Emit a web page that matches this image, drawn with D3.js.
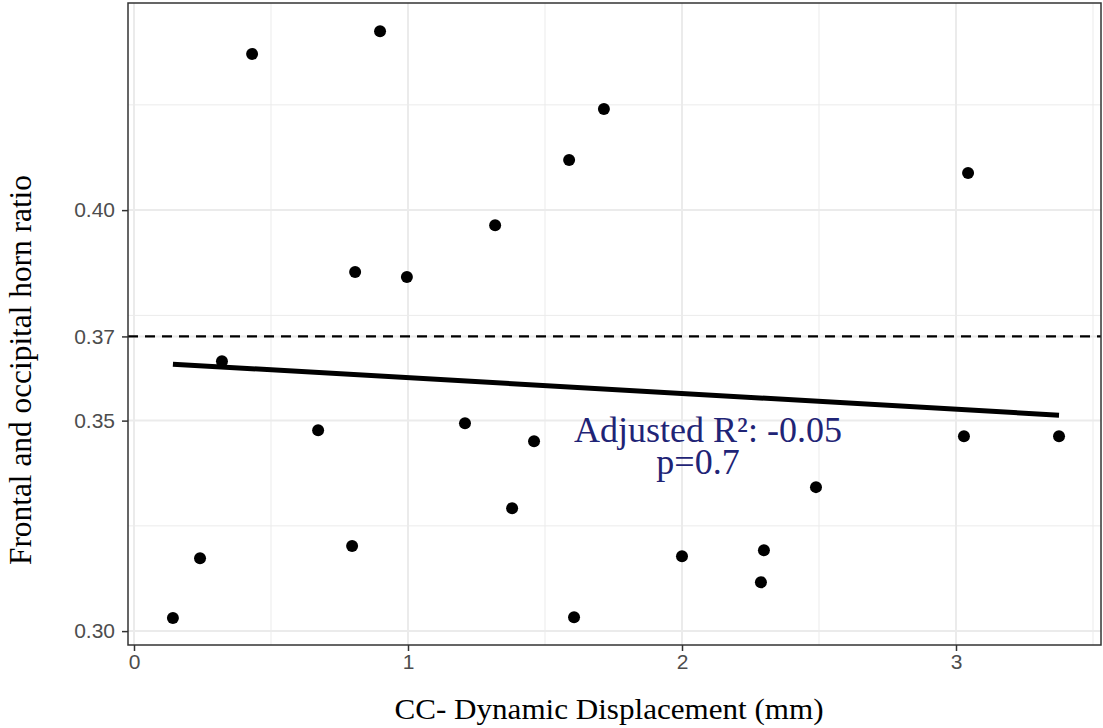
<!DOCTYPE html>
<html>
<head>
  <script src="https://cdn.jsdelivr.net/npm/d3@7"></script>
  <style>
    body { margin: 0; background: #fff; }
  </style>
</head>
<body>
<svg width="1103" height="728"></svg>
<script>
  // data
  var dispX = [0.142, 0.241, 0.321, 0.431, 0.672, 0.807, 0.796, 0.898, 0.996, 1.208, 1.318, 1.380,
               1.460, 1.588, 1.606, 1.715, 2.000, 2.288, 2.299, 2.489, 3.029, 3.044, 3.376];
  var ratioY = [0.3031, 0.3173, 0.3641, 0.4371, 0.3477, 0.3853, 0.3202, 0.4425, 0.3841, 0.3494, 0.3964, 0.3292,
                0.3451, 0.4119, 0.3033, 0.4240, 0.3178, 0.3116, 0.3192, 0.3342, 0.3463, 0.4088, 0.3463];
  var fitLine = [[0.142, 0.3634], [3.376, 0.3513]];
  var cutoff = 0.37;
  var xTicks = [0, 1, 2, 3];
  var xMinor = [0.5, 1.5, 2.5, 3.5];
  var yTicks = [0.30, 0.35, 0.37, 0.40];
  var yMinor = [0.325, 0.375, 0.425];
  var statLines = ["Adjusted R\u00b2: -0.05", "p=0.7"];

  var svg = d3.select("svg");
  var pL = 128, pR = 1101, pT = 3, pB = 645;
  var serif = "'Liberation Serif', 'DejaVu Serif', serif";

  var x = d3.scaleLinear().domain([-0.0219, 3.5292]).range([pL, pR]);
  var y = d3.scaleLinear().domain([0.2967, 0.4492]).range([pB, pT]);

  var grid = svg.append("g");
  grid.selectAll(".xmin").data(xMinor).enter().append("line")
    .attr("x1", d => x(d)).attr("x2", d => x(d)).attr("y1", pT).attr("y2", pB)
    .attr("stroke", "#ebebeb").attr("stroke-width", 1);
  grid.selectAll(".ymin").data(yMinor).enter().append("line")
    .attr("y1", d => y(d)).attr("y2", d => y(d)).attr("x1", pL).attr("x2", pR)
    .attr("stroke", "#ebebeb").attr("stroke-width", 1);
  grid.selectAll(".xmaj").data(xTicks).enter().append("line")
    .attr("x1", d => x(d)).attr("x2", d => x(d)).attr("y1", pT).attr("y2", pB)
    .attr("stroke", "#ebebeb").attr("stroke-width", 2);
  grid.selectAll(".ymaj").data(yTicks).enter().append("line")
    .attr("y1", d => y(d)).attr("y2", d => y(d)).attr("x1", pL).attr("x2", pR)
    .attr("stroke", "#ebebeb").attr("stroke-width", 2);

  // cutoff line
  svg.append("line")
    .attr("x1", pL).attr("x2", pR).attr("y1", y(cutoff)).attr("y2", y(cutoff))
    .attr("stroke", "#000").attr("stroke-width", 2.2).attr("stroke-dasharray", "10,7");

  // fit line
  svg.append("path")
    .datum(fitLine)
    .attr("d", d3.line().x(d => x(d[0])).y(d => y(d[1])))
    .attr("stroke", "#000").attr("stroke-width", 5).attr("fill", "none");

  // points
  svg.append("g").selectAll("circle").data(dispX).enter().append("circle")
    .attr("cx", d => x(d)).attr("cy", (d, i) => y(ratioY[i]))
    .attr("r", 6).attr("fill", "#000");

  // stats label
  svg.append("text")
    .attr("text-anchor", "middle")
    .attr("font-family", serif)
    .attr("font-size", 36).attr("fill", "#1f2476")
    .selectAll("tspan").data(statLines).enter().append("tspan")
    .attr("x", (d, i) => i === 0 ? 708 : 698)
    .attr("y", (d, i) => i === 0 ? 442 : 474)
    .text(d => d);

  // panel border
  svg.append("rect")
    .attr("x", pL).attr("y", pT).attr("width", pR - pL).attr("height", pB - pT)
    .attr("fill", "none").attr("stroke", "#333").attr("stroke-width", 1.5);

  // axes
  var xAxis = svg.append("g").attr("transform", "translate(0," + pB + ")")
    .call(d3.axisBottom(x).tickValues(xTicks).tickFormat(d3.format("d")).tickSize(6).tickPadding(3));
  var yAxis = svg.append("g").attr("transform", "translate(" + pL + ",0)")
    .call(d3.axisLeft(y).tickValues(yTicks).tickFormat(d3.format(".2f")).tickSize(6).tickPadding(7));
  [xAxis, yAxis].forEach(function(a) {
    a.select(".domain").remove();
    a.selectAll(".tick line").attr("stroke", "#333").attr("stroke-width", 1.5);
    a.selectAll(".tick text").attr("fill", "#4d4d4d")
      .attr("font-family", "'Liberation Sans', Arial, sans-serif").attr("font-size", 21);
  });

  // axis titles
  svg.append("text")
    .attr("x", 609).attr("y", 719)
    .attr("text-anchor", "middle")
    .attr("font-family", serif).attr("font-size", 30)
    .attr("textLength", 429).attr("lengthAdjust", "spacingAndGlyphs")
    .text("CC- Dynamic Displacement (mm)");
  svg.append("text")
    .attr("transform", "translate(31,370) rotate(-90)")
    .attr("text-anchor", "middle")
    .attr("font-family", serif).attr("font-size", 32)
    .attr("textLength", 390).attr("lengthAdjust", "spacingAndGlyphs")
    .text("Frontal and occipital horn ratio");
</script>
</body>
</html>
